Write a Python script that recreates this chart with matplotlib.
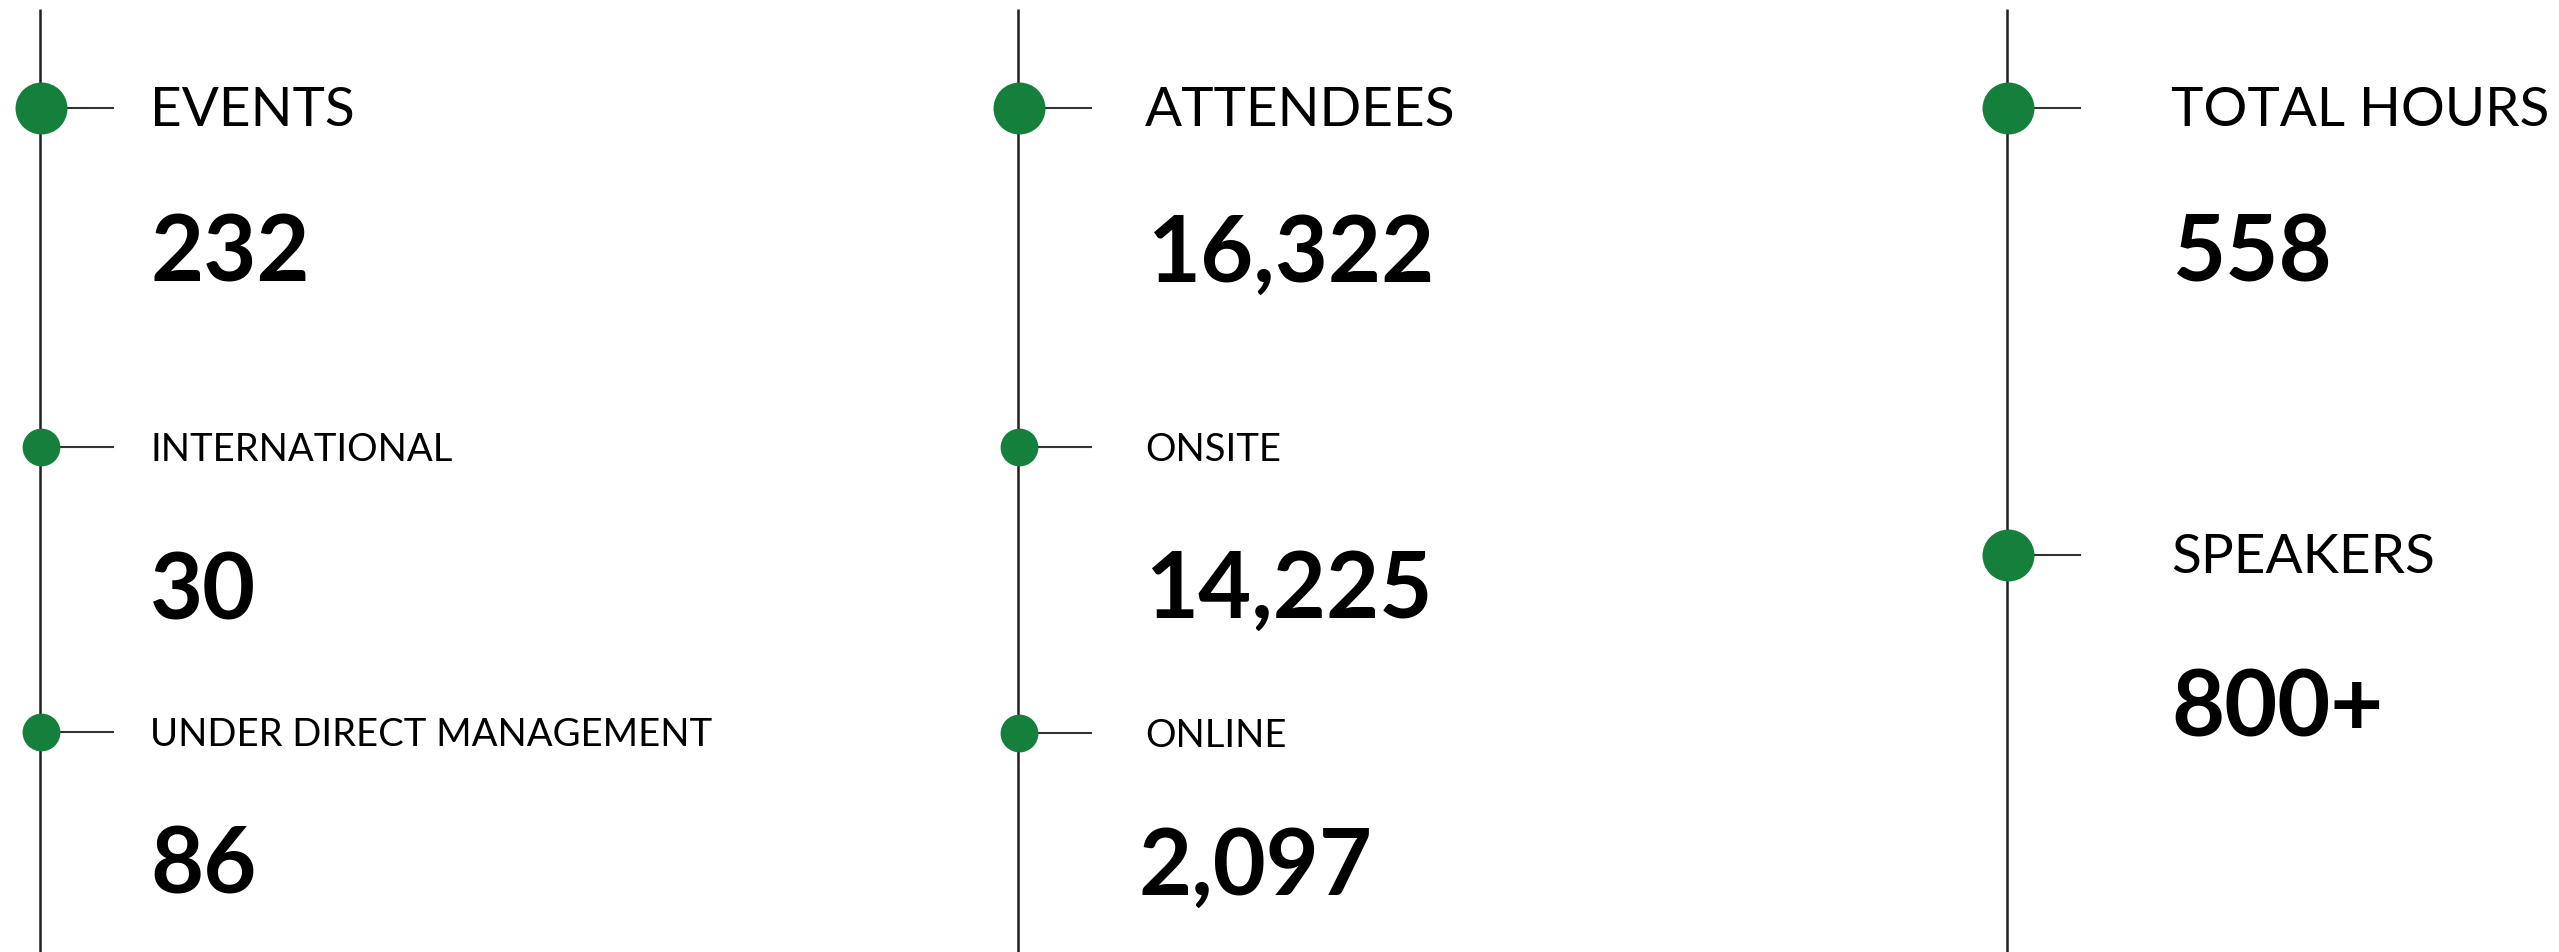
import matplotlib
matplotlib.use("Agg")
import matplotlib.pyplot as plt

# Data
col1_labels = ["EVENTS", "INTERNATIONAL", "UNDER DIRECT MANAGEMENT"]
col1_values = ["232", "30", "86"]
col2_labels = ["ATTENDEES", "ONSITE", "ONLINE"]
col2_values = ["16,322", "14,225", "2,097"]
col3_labels = ["TOTAL HOURS", "SPEAKERS"]
col3_values = ["558", "800+"]

# Layout (pixel coordinates, y grows downwards)
W, H = 2559, 953
line_x = [40, 1018, 2007]
text_x = [150, 1145, 2171]
dot_y = [[109, 448, 733], [109, 448, 734], [109, 556]]
major = [[True, False, False], [True, False, False], [True, True]]
value_y = [[282, 620, 894], [282, 618, 895], [282, 737]]
value_dx = [[0, 0, 0], [2, 0, -7], [2, 0]]

green = "#14803b"
line_col = "#231f20"

fig = plt.figure(figsize=(W / 100, H / 100), dpi=100)
ax = fig.add_axes([0, 0, 1, 1])
ax.set_xlim(0, W)
ax.set_ylim(H, 0)
ax.axis("off")

columns = [(col1_labels, col1_values), (col2_labels, col2_values), (col3_labels, col3_values)]

for c, (labels, values) in enumerate(columns):
    x0 = line_x[c]
    ax.plot([x0, x0], [10, H], color=line_col, lw=1.8, solid_capstyle="butt", zorder=1)
    for r, (lab, val) in enumerate(zip(labels, values)):
        y = dot_y[c][r]
        big = major[c][r]
        ax.plot([x0, x0 + 73], [y, y], color="#333333", lw=1.5, zorder=1)
        ax.scatter([x0 + 1], [y], s=1400 if big else 740, color=green, zorder=3, linewidths=0)
        ax.text(text_x[c], y + (17 if big else 13), lab, fontsize=39.5 if big else 27.5,
                family="Lato", va="baseline", ha="left", color="black")
        ax.text(text_x[c] + value_dx[c][r], value_y[c][r], val, fontsize=66, family="Lato",
                fontweight="bold", va="baseline", ha="left", color="black")

fig.savefig("out.png", dpi=100, facecolor="white")
